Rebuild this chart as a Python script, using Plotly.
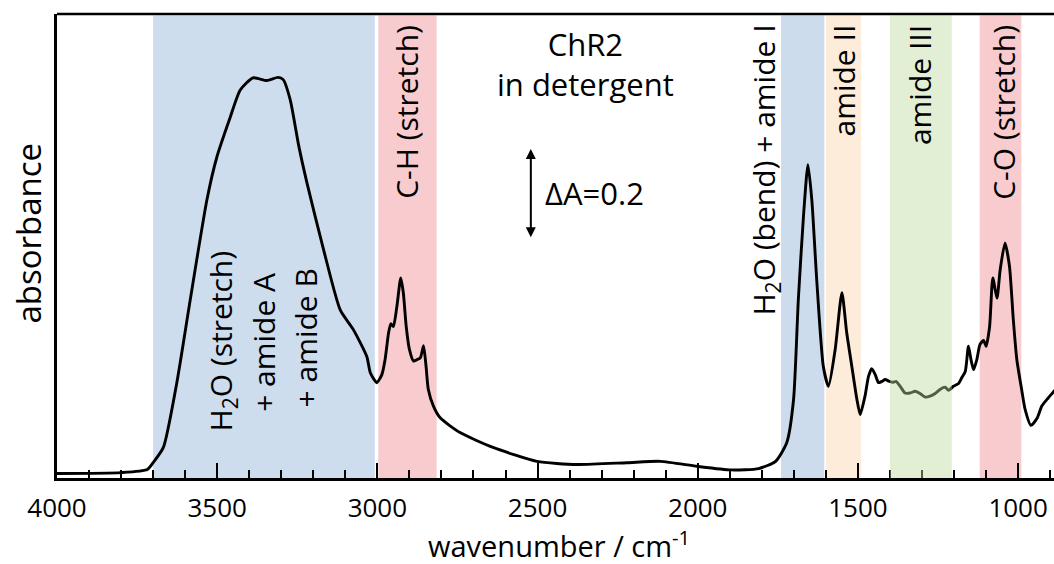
import plotly.graph_objects as go

# ---- data ----
wavenumber = [4000, 3800, 3718, 3700, 3668, 3626, 3584, 3532, 3501, 3459, 3428, 3388, 3345, 3310,
              3294, 3272, 3246, 3220, 3168, 3116, 3075, 3033, 3022, 3002, 2986, 2976, 2965, 2958,
              2950, 2939, 2927, 2919, 2910, 2900, 2887, 2877, 2866, 2856, 2848, 2841, 2825, 2804,
              2742, 2639, 2502, 2377, 2221, 2117, 2002, 1896, 1810, 1757, 1722, 1701, 1686, 1670,
              1656, 1644, 1628, 1608, 1592, 1571, 1550, 1535, 1519, 1503, 1493, 1478, 1467, 1457,
              1446, 1436, 1425, 1415, 1402, 1389, 1381, 1368, 1353, 1337, 1321, 1306, 1290, 1275,
              1259, 1244, 1228, 1217, 1202, 1186, 1176, 1165, 1155, 1147, 1139, 1129, 1119, 1108,
              1100, 1089, 1079, 1066, 1056, 1041, 1027, 1015, 1004, 989, 978, 960, 940, 926, 906,
              888, 875]
absorbance = [0.010, 0.012, 0.019, 0.034, 0.068, 0.212, 0.397, 0.619, 0.714, 0.803, 0.863, 0.890, 0.884, 0.891,
              0.886, 0.841, 0.741, 0.657, 0.508, 0.374, 0.330, 0.270, 0.234, 0.212, 0.230, 0.263, 0.323, 0.343,
              0.337, 0.382, 0.445, 0.412, 0.337, 0.286, 0.260, 0.263, 0.267, 0.294, 0.248, 0.197, 0.160, 0.134,
              0.101, 0.068, 0.037, 0.030, 0.034, 0.037, 0.026, 0.018, 0.021, 0.037, 0.079, 0.174, 0.397, 0.582,
              0.697, 0.619, 0.434, 0.248, 0.204, 0.286, 0.412, 0.323, 0.248, 0.174, 0.141, 0.182, 0.226, 0.243,
              0.230, 0.212, 0.215, 0.219, 0.215, 0.213, 0.215, 0.204, 0.189, 0.189, 0.193, 0.188, 0.180, 0.182,
              0.188, 0.197, 0.202, 0.195, 0.204, 0.210, 0.223, 0.237, 0.293, 0.263, 0.241, 0.263, 0.297, 0.306,
              0.293, 0.337, 0.445, 0.400, 0.463, 0.523, 0.471, 0.352, 0.263, 0.197, 0.152, 0.117, 0.134, 0.160, 0.178,
              0.193, 0.205]

band_names = ["H2O stretch", "C-H stretch", "H2O bend", "amide II", "amide III", "C-O stretch"]
band_start = [3700, 2997, 1740, 1600, 1400, 1120]
band_end = [3008, 2815, 1605, 1490, 1207, 990]
band_colors = ["#cddded", "#f8cbcf", "#ccdcec", "#fcecd9", "rgba(187,218,155,0.43)", "#f8cbcf"]
band_layers = ["below", "below", "below", "below", "above", "below"]

x_ticks = [4000, 3500, 3000, 2500, 2000, 1500, 1000]
scale_bar = [0.532, 0.732]  # Delta A = 0.2

FONT = "Open Sans"

fig = go.Figure()
fig.add_trace(go.Scatter(x=wavenumber, y=absorbance, mode="lines",
                         line=dict(color="black", width=2.9, shape="spline", smoothing=0.6),
                         hoverinfo="skip", showlegend=False))

for x0, x1, col, lay in zip(band_start, band_end, band_colors, band_layers):
    fig.add_shape(type="rect", xref="x", yref="paper", x0=x0, x1=x1, y0=0, y1=0.997,
                  fillcolor=col, line=dict(width=0), layer=lay)

# top frame line (the right edge of the plot is cut off)
fig.add_shape(type="line", xref="paper", yref="paper", x0=0, x1=1, y0=1, y1=1,
              line=dict(color="black", width=2.6), layer="above")

def vlabel(x, text, y=1.012, anchor="top"):
    fig.add_annotation(x=x, y=y, xref="x", yref="y", text=text, textangle=-90,
                       showarrow=False, xanchor="center", yanchor=anchor,
                       font=dict(family=FONT, size=30, color="black"))

vlabel(3485, "H<sub>2</sub>O (stretch)", y=0.306, anchor="middle")
vlabel(3355, "+ amide A", y=0.302, anchor="middle")
vlabel(3225, "+ amide B", y=0.311, anchor="middle")
vlabel(2908, "C-H (stretch)")
vlabel(1790, "H<sub>2</sub>O (bend) + amide I")
vlabel(1545, "amide II")
vlabel(1306, "amide III")
vlabel(1046, "C-O (stretch)")

fig.add_annotation(x=2351, y=0.92, xref="x", yref="y", text="ChR2<br>in detergent",
                   showarrow=False, font=dict(family=FONT, size=31, color="black"))
fig.add_annotation(x=2482, y=0.634, xref="x", yref="y", text="ΔA=0.2", xanchor="left",
                   showarrow=False, font=dict(family=FONT, size=31, color="black"))
fig.add_annotation(x=2521, y=scale_bar[1], ax=2521, ay=scale_bar[0], xref="x", yref="y",
                   axref="x", ayref="y", text="", showarrow=True, arrowhead=2, arrowside="end+start",
                   arrowsize=1, arrowwidth=2, arrowcolor="black", startarrowhead=2, startarrowsize=1)

fig.add_annotation(x=0.504, y=-0.142, xref="paper", yref="paper", text="wavenumber / cm<sup>-1</sup>",
                   showarrow=False, xanchor="center", yanchor="middle",
                   font=dict(family=FONT, size=29, color="black"))
fig.add_annotation(x=-0.029, y=0.527, xref="paper", yref="paper", text="absorbance", textangle=-90,
                   showarrow=False, xanchor="center", yanchor="middle",
                   font=dict(family=FONT, size=33, color="black"))

fig.update_layout(
    width=1054, height=564, margin=dict(l=57, r=0, t=14, b=86),
    paper_bgcolor="white", plot_bgcolor="white",
    xaxis=dict(range=[4000, 888], autorange=False, tickvals=x_ticks, ticks="inside", ticklen=15,
               tickwidth=2.4, tickcolor="black", showline=True, linecolor="black", linewidth=2.6,
               showgrid=False, zeroline=False, tickfont=dict(family=FONT, size=26, color="black"),
               ticklabelstandoff=5,
               minor=dict(dtick=100, tick0=0, ticks="inside", ticklen=8, tickwidth=2.4,
                          tickcolor="black", showgrid=False)),
    yaxis=dict(range=[0, 1.032], autorange=False, showticklabels=False, ticks="", showline=True,
               linecolor="black", linewidth=2.6, showgrid=False, zeroline=False),
)

fig.write_html("out.html")
